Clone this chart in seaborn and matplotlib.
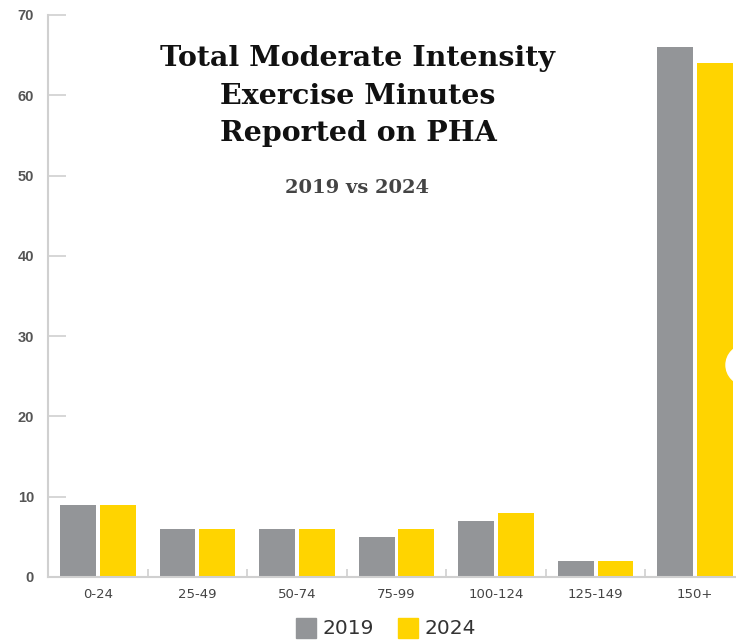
import matplotlib
matplotlib.use("Agg")
import matplotlib.pyplot as plt
import seaborn as sns
import pandas as pd
from matplotlib.patches import Circle, Rectangle
from matplotlib.ticker import FixedLocator
import matplotlib.transforms as mtrans

categories = ["0-24", "25-49", "50-74", "75-99", "100-124", "125-149", "150+"]
values_2019 = [9, 6, 6, 5, 7, 2, 66]
values_2024 = [9, 6, 6, 6, 8, 2, 64]
years = ["2019", "2024"]
colors = ["#939598", "#FFD400"]

df = pd.DataFrame({
    "cat": categories * 2,
    "val": values_2019 + values_2024,
    "year": [years[0]] * len(categories) + [years[1]] * len(categories),
})

sns.set_theme(style="white")
plt.rcParams["font.family"] = ["DejaVu Sans"]

W, H = 736, 641
fig = plt.figure(figsize=(W / 100, H / 100), dpi=100)
ax = fig.add_axes([48 / W, 64 / H, 697 / W, 562 / H])

sns.barplot(data=df, x="cat", y="val", hue="year", palette=colors,
            width=0.8, gap=0.1, ax=ax, legend=False, saturation=1,
            edgecolor="none")

ax.set_xlim(-0.5, 6.5)
ax.set_ylim(0, 70)
ax.set_xlabel("")
ax.set_ylabel("")
ax.set_yticks(range(0, 71, 10))
ax.set_yticklabels([str(v) for v in range(0, 71, 10)])

for s in ["top", "right"]:
    ax.spines[s].set_visible(False)
for s in ["left", "bottom"]:
    ax.spines[s].set_color("#d0d0d0")
    ax.spines[s].set_linewidth(1.5)

ax.tick_params(axis="y", direction="in", length=13, width=1.2, color="#d0d0d0",
               labelsize=10.5, labelcolor="#555555", pad=10, left=True)
ax.tick_params(axis="x", which="major", length=0, labelsize=9.5,
               labelcolor="#444444", pad=8)
ax.xaxis.set_minor_locator(FixedLocator([0.5, 1.5, 2.5, 3.5, 4.5, 5.5]))
ax.tick_params(axis="x", which="minor", direction="in", length=6, width=1.2,
               color="#d0d0d0", bottom=True)
for lab in ax.get_xticklabels():
    lab.set_family(["Liberation Sans Narrow", "DejaVu Sans"])
for lab in ax.get_yticklabels():
    lab.set_family(["Liberation Sans", "DejaVu Sans"])
    lab.set_fontweight("bold")

# Title
fig.text(358 / W, 1 - 96 / H, "Total Moderate Intensity\nExercise Minutes\nReported on PHA",
         ha="center", va="center", fontsize=20.5, fontweight="bold",
         family=["DejaVu Serif"], color="#111111", linespacing=1.52)
fig.text(357 / W, 1 - 188 / H, "2019 vs 2024", ha="center", va="center",
         fontsize=14, fontweight="semibold", family=["DejaVu Serif"], color="#444444")

# Legend
for i, (yr, c) in enumerate(zip(years, colors)):
    x0 = 296 + i * 102
    fig.patches.append(Rectangle((x0 / W, 1 - 638 / H), 20 / W, 20 / H,
                                 transform=fig.transFigure, color=c))
    fig.text((x0 + 26) / W, 1 - 628 / H, yr, ha="left", va="center",
             fontsize=14.5, family=["Liberation Sans Narrow", "DejaVu Sans"],
             color="#333333")

# decorative notch on the right edge
notch = Circle((746, 365), 20, color="white", zorder=10)
notch.set_transform(mtrans.Affine2D().scale(1, -1).translate(0, H))
fig.patches.append(notch)

fig.savefig("out.png", dpi=100)
